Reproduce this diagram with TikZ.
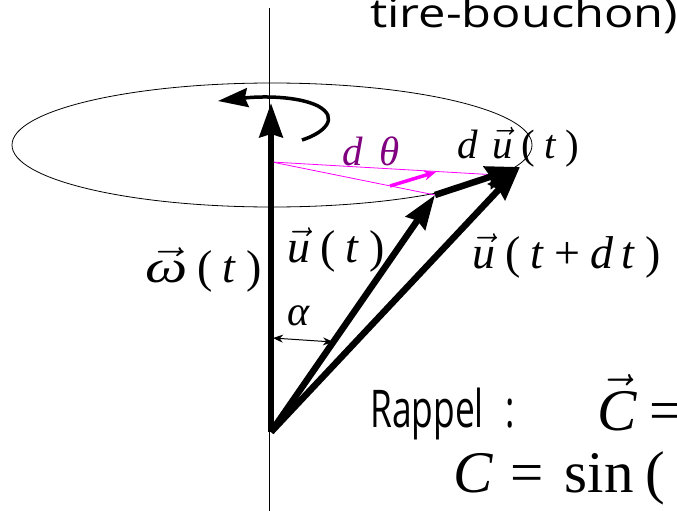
\RequirePackage{fix-cm}
\documentclass[tikz,border=0pt]{standalone}
\usepackage{fontspec}
\setmainfont{Liberation Serif}
\setsansfont{Open Sans}
\usetikzlibrary{arrows.meta,shapes.geometric}
\definecolor{dmag}{HTML}{FF00FF}
\definecolor{dpurp}{HTML}{800080}
\newcommand{\vt}[1]{$\vec{\textit{#1}}$}
\newcommand{\gp}{\hspace{.22em}}

\begin{document}
\begin{tikzpicture}[
  x=1pt, y=-1pt,
  vecarrow/.style={line width=6.5pt, -{Stealth[length=34pt, width=23pt, inset=3pt]}},
  spin/.style={line width=3.5pt, -{Stealth[length=30pt, width=19pt, inset=3pt]}},
  maglink/.style={dmag, line width=0.8pt},
  lbl/.style={anchor=base west, inner sep=0pt, font=\itshape\fontsize{46}{52}\selectfont},
  small/.style={anchor=base west, inner sep=0pt, font=\itshape\fontsize{41}{48}\selectfont},
  big/.style={anchor=base west, inner sep=0pt, font=\fontsize{59}{66}\selectfont},
  hand/.style={anchor=base west, inner sep=0pt, font=\sffamily\fontsize{40}{44}\selectfont}
]
\useasboundingbox (0,0) rectangle (677,511);
\clip (0,0) rectangle (677,511);

\coordinate (top) at (269,8);
\coordinate (bot) at (269,511);
\coordinate (O) at (271,432);
\coordinate (W) at (271,103);
\coordinate (U) at (435,195);
\coordinate (V) at (520,167);
\coordinate (A) at (272,162);
\coordinate (Vm) at (515,176);
\coordinate (m1) at (390,186);
\coordinate (m2) at (436,172);
\coordinate (r1) at (302,140);
\coordinate (r2) at (218,101);
\coordinate (a1) at (273,338);
\coordinate (a2) at (333,342);

\draw[line width=0.8pt] (top) -- (bot);
\node[draw, ellipse, line width=0.8pt, minimum width=520pt, minimum height=124pt, inner sep=0pt] (orbit) at (272,145) {};

\draw[maglink] (A) -- (Vm);
\draw[maglink] (A) -- (U);
\draw[dmag, line width=3.5pt, -{Stealth[length=12pt, width=10pt]}] (m1) -- (m2);

\draw[spin] (r1) .. controls (324,133) and (340,118) .. (318,106)
  .. controls (298,96) and (262,96) .. (r2);
\draw[vecarrow] (O) -- (W);
\draw[vecarrow] (O) -- (U);
\draw[vecarrow] (O) -- (V);
\draw[vecarrow] (U) -- (V);
\draw[line width=1pt, {Stealth[length=10pt, width=8pt]}-{Stealth[length=10pt, width=8pt]}] (a1) -- (a2);

\node[small, text=dpurp] (dth) at (342,165) {d\hspace{.4em}θ};
\node[small] (du) at (457,158) {d\hspace{.35em}\vt{u}\gp\textup{(}\gp t\gp\textup{)}};
\node[lbl] (om) at (145,282) {\scalebox{1.3}[1]{\vt{ω}}\gp\textup{(}\gp t\gp\textup{)}};
\node[lbl] (ut) at (287,262) {\vt{u}\gp\textup{(}\gp t\gp\textup{)}};
\node[lbl] (utdt) at (472,268) {\vt{u}\gp\textup{(}\gp t\gp\textup{+}\gp d\,t\gp\textup{)}};
\node[lbl, font=\itshape\fontsize{42}{48}\selectfont] (al) at (287,325) {α};

\node[hand] (tire) at (370,28) {\scalebox{1.22}[1]{tire-bouchon)}};
\node[hand, font=\sffamily\fontsize{52}{60}\selectfont] (rappel) at (370,427) {\scalebox{.68}[1]{Rappel\hspace{.6em}:}};
\node[big] (cvec) at (597,430) {\vt{C}\gp=};
\node[big] (cdef) at (453,492) {\textit{C}\hspace{.3em}=\hspace{.35em}sin\hspace{.2em}(};
\end{tikzpicture}
\end{document}
